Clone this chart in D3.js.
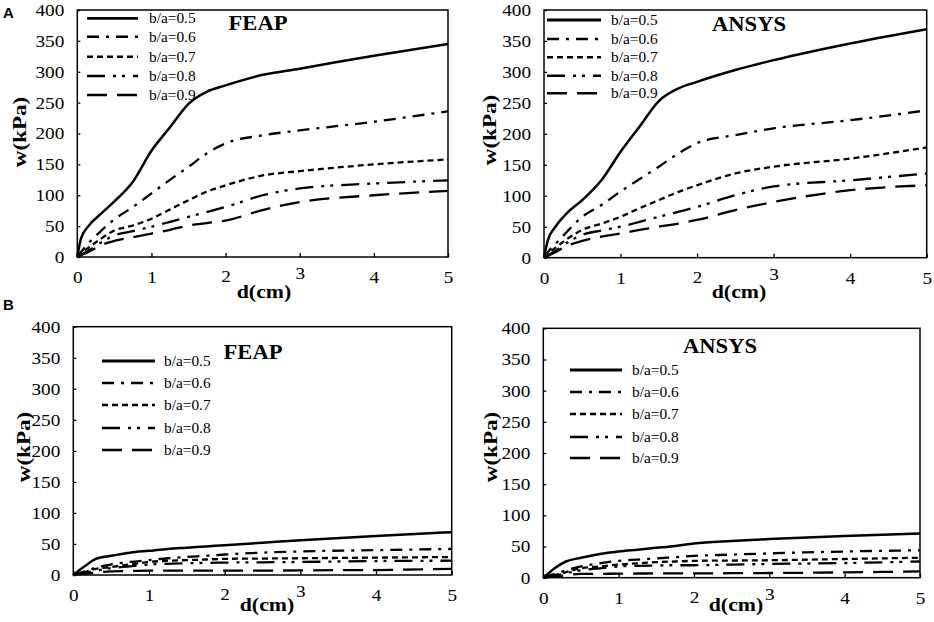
<!DOCTYPE html>
<html>
<head>
<meta charset="utf-8">
<style>
  body { margin: 0; background: #fff; }
  svg { display: block; }
  svg text { font-family: 'Liberation Serif', 'Times New Roman', serif; }
  svg text.letter { font-family: 'Liberation Sans', Arial, sans-serif; }
</style>
</head>
<body>
<svg width="934" height="622"></svg>
<script src="https://d3js.org/d3.v7.min.js"></script>
<script>

// DATA
// common sampling of d (cm) for every curve
var dVals = [0, 0.05, 0.15, 0.3, 0.5, 0.75, 1, 1.25, 1.5, 1.75, 2, 2.5, 3, 4, 5];

var seriesNames = ["b/a=0.5", "b/a=0.6", "b/a=0.7", "b/a=0.8", "b/a=0.9"];

var xTicks = [0, 1, 2, 3, 4, 5];
var yTicks = [0, 50, 100, 150, 200, 250, 300, 350, 400];

// (A) FEAP, w(kPa) per series
var feapA = [
  [0, 30, 50, 68, 90, 122, 172, 210, 248, 268, 278, 295, 305, 326, 345],
  [0, 8, 22, 40, 61, 81, 103, 125, 146, 168, 184, 197, 205, 219, 236],
  [0, 6, 15, 28, 43, 51, 62, 77, 92, 106, 116, 132, 139, 150, 158],
  [0, 4, 10, 22, 35, 42, 49, 57, 65, 73, 81, 100, 111, 119, 124],
  [0, 3, 8, 18, 26, 32, 38, 44, 51, 55, 59, 76, 89, 100, 107]
];

// (A) ANSYS
var ansysA = [
  [0, 28, 50, 72, 93, 125, 171, 212, 253, 273, 284, 303, 319, 346, 369],
  [0, 9, 22, 42, 66, 85, 107, 127, 147, 168, 185, 198, 209, 222, 238],
  [0, 6, 16, 30, 45, 55, 66, 80, 93, 106, 117, 136, 147, 160, 178],
  [0, 4, 11, 24, 37, 44, 50, 58, 66, 74, 82, 101, 115, 125, 136],
  [0, 3, 9, 19, 27, 34, 39, 45, 50, 55, 61, 77, 90, 109, 117]
];

// (B) FEAP
var feapB = [
  [0, 5, 14, 26, 31, 36, 39, 42, 44, 46, 48, 52, 56, 63, 69],
  [0, 2, 6, 12, 17, 21, 24, 27, 29, 31, 33, 36, 38, 40, 42],
  [0, 2, 5, 10, 13, 17, 21, 23, 24, 25, 26, 26.5, 27, 28, 29],
  [0, 1, 3, 7, 11, 14, 17, 18, 19, 19.5, 20, 20.5, 21, 22.5, 23],
  [0, 1, 2, 4, 6, 6.5, 7, 7, 7, 7, 7, 7, 7.5, 8, 10]
];

// (B) ANSYS
var ansysB = [
  [0, 5, 15, 26, 32, 38, 42, 45, 48, 51, 55, 59, 62, 67, 71],
  [0, 2, 6, 12, 18, 23, 27, 29, 31, 33, 35, 37, 39, 42, 44],
  [0, 2, 4, 9, 15, 18, 21, 23, 25, 26, 27, 27.5, 28, 30, 32],
  [0, 1, 3, 7, 12, 15, 18, 19, 19.5, 20, 20, 21, 22, 23.5, 26],
  [0, 1, 2, 4, 6, 6.2, 6.5, 6.7, 6.8, 7, 7, 7.2, 7.5, 8.5, 10]
];

// line styles per series (solid, dash-dot, short dash, dash-dot-dot, long dash)
var dashes = [null, "12,7,3,7", "6,4", "18,8,3,6,3,8", "20,10"];

// panel layout
var panels = [
  { data: feapA, title: "FEAP", left: 77.3, right: 448, top: 10, bottom: 257,
    titlePos: [258, 30], yTitle: [20, 132], xTitle: [264, 298],
    legX: [87, 138, 149], legRows: [18.3, 36.7, 56.7, 76, 95] },
  { data: ansysA, title: "ANSYS", left: 544, right: 926.7, top: 10, bottom: 257.7,
    titlePos: [749, 31], yTitle: [490, 130], xTitle: [739, 298],
    legX: [547, 601, 611], legRows: [20, 39, 57.3, 75.7, 93.3] },
  { data: feapB, title: "FEAP", left: 73.3, right: 451.7, top: 326.7, bottom: 575,
    titlePos: [253, 359], yTitle: [24, 447], xTitle: [267, 611],
    legX: [102, 155, 164], legRows: [361, 383, 405, 428, 450] },
  { data: ansysB, title: "ANSYS", left: 543.3, right: 920, top: 328.3, bottom: 577.7,
    titlePos: [720, 353], yTitle: [491, 447], xTitle: [736, 611],
    legX: [570, 622, 632], legRows: [370, 392, 414, 437, 458] }
];

var svg = d3.select("svg");

// the figure's text is a bit wide, so stretch it horizontally
function stext(g, x, y, str, size, bold, anchor, sx, rot) {
  return g.append("text")
    .attr("transform", "translate(" + x + "," + y + ")" + (rot ? " rotate(-90)" : "") + " scale(" + sx + ",1)")
    .attr("text-anchor", anchor)
    .attr("font-size", size)
    .attr("font-weight", bold ? "bold" : "normal")
    .attr("fill", "#000")
    .text(str);
}

panels.forEach(function(p) {
  var x = d3.scaleLinear().domain([0, 5]).range([p.left, p.right]);
  var y = d3.scaleLinear().domain([0, 400]).range([p.bottom, p.top]);
  var g = svg.append("g");

  // y axis, ticks pointing inward
  var ya = g.append("g")
    .attr("transform", "translate(" + p.left + ",0)")
    .call(d3.axisLeft(y).tickValues(yTicks).tickFormat(d3.format("d")).tickSize(-3).tickSizeOuter(0));
  ya.attr("font-family", null).attr("font-size", 16);
  ya.select(".domain").remove();
  ya.selectAll("line").attr("stroke-width", 1.3);
  ya.selectAll("text")
    .attr("x", null).attr("dy", null)
    .attr("dominant-baseline", "central")
    .attr("transform", "translate(-13,0) scale(1.2,1)");

  // x axis
  var xa = g.append("g")
    .attr("transform", "translate(0," + p.bottom + ")")
    .call(d3.axisBottom(x).tickValues(xTicks).tickFormat(d3.format("d")).tickSize(-4).tickSizeOuter(0));
  xa.attr("font-family", null).attr("font-size", 16);
  xa.select(".domain").remove();
  xa.selectAll("line").attr("stroke-width", 1.3);
  xa.selectAll("text")
    .attr("y", 15)
    .attr("transform", function(d) { return "translate(0," + (d === 3 ? -4 : d === 2 ? -1 : 0) + ") scale(1.2,1)"; });

  // frame
  g.append("rect")
    .attr("x", p.left).attr("y", p.top)
    .attr("width", p.right - p.left).attr("height", p.bottom - p.top)
    .attr("fill", "none").attr("stroke", "#000").attr("stroke-width", 1.5);

  // curves
  var line = d3.line()
    .x(function(d, i) { return x(dVals[i]); })
    .y(function(d) { return y(d); })
    .curve(d3.curveMonotoneX);

  p.data.forEach(function(s, k) {
    g.append("path")
      .attr("d", line(s))
      .attr("fill", "none")
      .attr("stroke", "#000")
      .attr("stroke-width", k === 0 ? 2.5 : 2.3)
      .attr("stroke-dasharray", dashes[k]);
  });

  // legend
  seriesNames.forEach(function(name, k) {
    var ry = p.legRows[k];
    g.append("line")
      .attr("x1", p.legX[0]).attr("x2", p.legX[1])
      .attr("y1", ry).attr("y2", ry)
      .attr("stroke", "#000")
      .attr("stroke-width", k === 0 ? 2.8 : 2.5)
      .attr("stroke-dasharray", dashes[k]);
    stext(g, p.legX[2], ry, name, 14.5, false, "start", 1.06)
      .attr("dominant-baseline", "central");
  });

  // titles
  stext(g, p.titlePos[0], p.titlePos[1], p.title, 20, true, "middle", 1.13);
  stext(g, p.xTitle[0], p.xTitle[1], "d(cm)", 18.5, true, "middle", 1.18);
  stext(g, p.yTitle[0], p.yTitle[1], "w(kPa)", 18.5, true, "middle", 1.25, true)
    .attr("dominant-baseline", "central");
});

// panel letters
svg.append("text").attr("class", "letter").attr("x", 3).attr("y", 18)
  .attr("font-weight", "bold").attr("font-size", 15).text("A");
svg.append("text").attr("class", "letter").attr("x", 3).attr("y", 310)
  .attr("font-weight", "bold").attr("font-size", 15).text("B");

</script>
</body>
</html>
